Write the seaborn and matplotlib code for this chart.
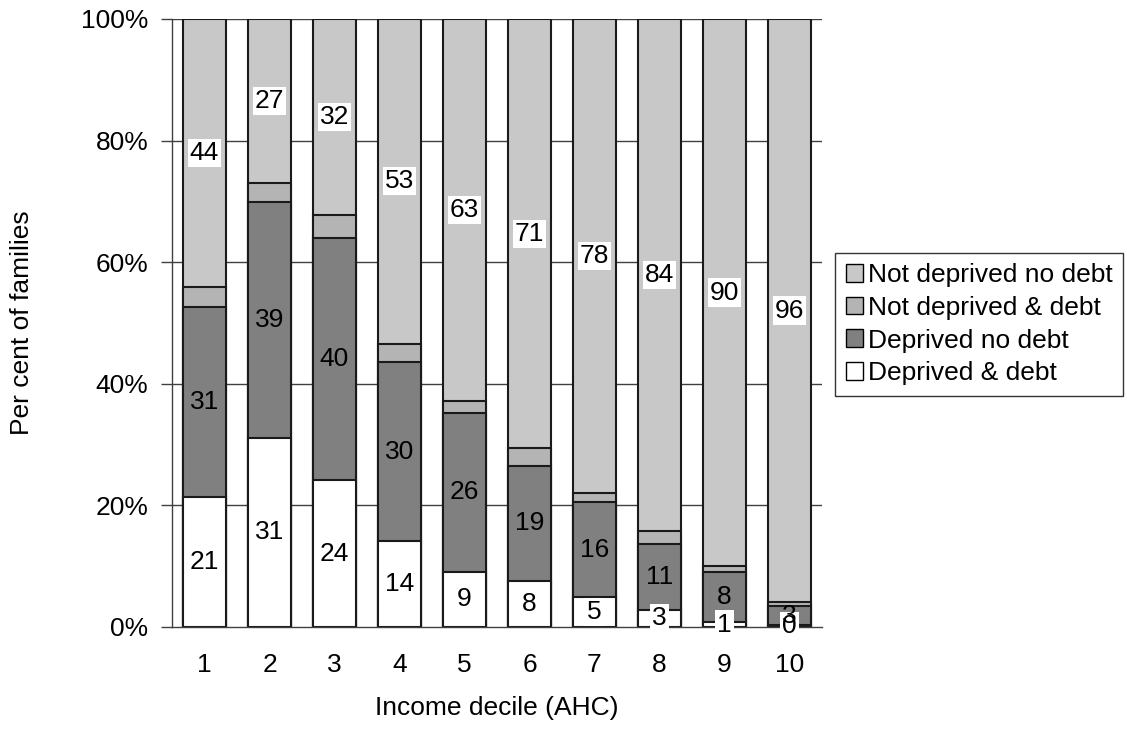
import matplotlib
matplotlib.use("Agg")
import matplotlib.pyplot as plt
import seaborn as sns
import pandas as pd
import numpy as np
from matplotlib.patches import Patch

deciles = ["1", "2", "3", "4", "5", "6", "7", "8", "9", "10"]
deprived_debt = [21.3, 31.1, 24.1, 14.1, 9.1, 7.6, 4.9, 2.8, 0.8, 0.3]
deprived_nodebt = [31.3, 38.8, 39.9, 29.5, 26.1, 18.9, 15.6, 10.9, 8.2, 3.1]
notdep_debt = [3.3, 3.1, 3.8, 3.0, 1.9, 2.9, 1.5, 2.1, 1.0, 0.7]
notdep_nodebt = [44.1, 27.0, 32.2, 53.4, 62.9, 70.6, 78.0, 84.2, 90.0, 95.9]

series_names = ["Deprived & debt", "Deprived no debt", "Not deprived & debt", "Not deprived no debt"]
colors = ["#ffffff", "#808080", "#b4b4b4", "#c8c8c8"]

sns.set_style("white")
plt.rcParams['font.family'] = ['Liberation Sans', 'DejaVu Sans']
plt.rcParams['text.color'] = 'black'
plt.rcParams['axes.labelcolor'] = 'black'
plt.rcParams['xtick.color'] = 'black'
plt.rcParams['ytick.color'] = 'black'

FS = 19

fig, ax = plt.subplots(figsize=(11.27, 7.29), dpi=100)
fig.subplots_adjust(left=172/1127, right=822/1127, top=1-19/729, bottom=1-627/729)

df = pd.DataFrame({
    "decile": deciles,
    "s0": deprived_debt,
    "s1": deprived_nodebt,
    "s2": notdep_debt,
    "s3": notdep_nodebt,
})
cols = ["s0", "s1", "s2", "s3"]
cum = df[cols].cumsum(axis=1)
df_cum = pd.concat([df[["decile"]], cum], axis=1)

ax.set_axisbelow(True)
for yv in [20, 40, 60, 80, 100]:
    ax.axhline(yv, color="#404040", lw=1.0, zorder=0)

for i in range(3, -1, -1):
    sns.barplot(data=df_cum, x="decile", y=cols[i], color=colors[i], width=0.66,
                edgecolor="#1a1a1a", linewidth=1.5, saturation=1, ax=ax, zorder=2)

bottoms = np.zeros(len(deciles))
vals = [deprived_debt, deprived_nodebt, notdep_debt, notdep_nodebt]
for si, v in enumerate(vals):
    v = np.array(v)
    mids = bottoms + v / 2
    if si != 2:
        for xi in range(len(deciles)):
            txt = f"{int(round(v[xi]))}"
            kw = dict(ha="center", va="center", fontsize=FS, color="black", zorder=5)
            if si in (0, 3):
                kw["bbox"] = dict(boxstyle="square,pad=0.08", fc="white", ec="none")
            ax.text(xi, mids[xi], txt, **kw)
    bottoms = bottoms + v

ax.set_xlim(-0.5, 9.5)
ax.set_ylim(0, 100)
ax.set_yticks([0, 20, 40, 60, 80, 100])
ax.set_yticklabels(["0%", "20%", "40%", "60%", "80%", "100%"], fontsize=FS)
ax.set_xticks(range(10))
ax.set_xticklabels(deciles, fontsize=FS)
ax.set_xticks(np.arange(-0.5, 10, 1), minor=True)
ax.tick_params(axis="x", which="major", length=0, pad=19)
ax.tick_params(axis="x", which="minor", length=8, width=1, color="#404040", direction="out")
ax.tick_params(axis="y", which="major", length=8, width=1, color="#404040", direction="out", pad=9, left=True)

for s in ["top", "right"]:
    ax.spines[s].set_visible(False)
for s in ["left", "bottom"]:
    ax.spines[s].set_color("#404040")
    ax.spines[s].set_linewidth(1)

ax.set_xlabel("Income decile (AHC)", fontsize=FS)
ax.set_ylabel("Per cent of families", fontsize=FS)
ax.xaxis.label.set_va("center")
ax.yaxis.label.set_va("center")
ax.xaxis.set_label_coords(0.5, (627-708)/608)
ax.yaxis.set_label_coords((22-172)/650, 0.5)

handles = [Patch(facecolor=colors[i], edgecolor="black", linewidth=1, label=series_names[i]) for i in range(3, -1, -1)]
leg = ax.legend(handles=handles, loc="center left", bbox_to_anchor=(1.02, 0.498),
                fontsize=FS, frameon=True, fancybox=False, edgecolor="black",
                handlelength=0.65, handleheight=0.65, handletextpad=0.2,
                borderpad=0.4, labelspacing=0.33, borderaxespad=0)
leg.get_frame().set_linewidth(1)

fig.savefig("out.png", dpi=100)
